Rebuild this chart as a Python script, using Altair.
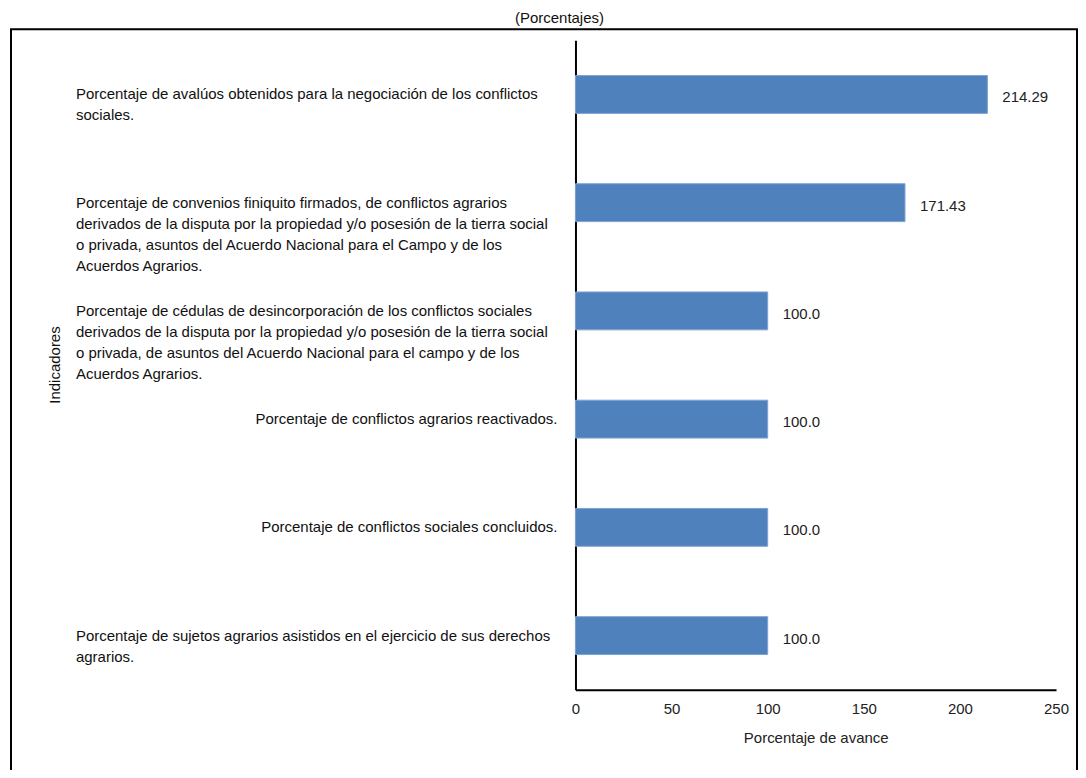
import altair as alt
import pandas as pd

indicadores = [
    ["Porcentaje de avalúos obtenidos para la  negociación de los conflictos",
     "sociales."],
    ["Porcentaje de convenios finiquito firmados, de conflictos agrarios",
     "derivados de la disputa por la propiedad y/o posesión de la tierra social",
     "o privada, asuntos del Acuerdo Nacional para el Campo y de los",
     "Acuerdos Agrarios."],
    ["Porcentaje de cédulas de desincorporación de los conflictos sociales",
     "derivados de la disputa por la propiedad y/o posesión de la tierra social",
     "o privada, de asuntos del Acuerdo Nacional para el campo y de los",
     "Acuerdos Agrarios."],
    ["Porcentaje de conflictos agrarios reactivados."],
    ["Porcentaje de conflictos sociales concluidos."],
    ["Porcentaje de sujetos agrarios asistidos en el ejercicio de sus derechos",
     "agrarios."],
]
avance = [214.29, 171.43, 100.0, 100.0, 100.0, 100.0]
etiquetas = ["214.29", "171.43", "100.0", "100.0", "100.0", "100.0"]
x_ticks = [0, 50, 100, 150, 200, 250]
titulo = "(Porcentajes)"
titulo_x = "Porcentaje de avance"
titulo_y = "Indicadores"

FONT = "Liberation Sans, Arial, sans-serif"
BAR = "#4F81BD"

df = pd.DataFrame({
    "key": [" ".join(l) for l in indicadores],
    "lines": indicadores,
    "multi": [len(l) > 1 for l in indicadores],
    "avance": avance,
    "etiqueta": etiquetas,
})
order = df["key"].tolist()

W, H = 481, 650

y_enc = alt.Y("key:N", sort=order,
              scale=alt.Scale(domain=order, paddingInner=0.65, paddingOuter=0.325),
              axis=alt.Axis(labels=False, ticks=False, title=None, grid=False,
                            domainColor="black", domainWidth=2))
x_enc = alt.X("avance:Q", scale=alt.Scale(domain=[0, 250], nice=False),
              axis=alt.Axis(values=x_ticks, title=titulo_x, grid=False, ticks=False,
                            domainColor="black", domainWidth=2, labelFlush=False,
                            labelFontSize=15, labelFont=FONT, labelColor="#222",
                            labelPadding=12, titleFont=FONT, titleFontSize=15,
                            titleFontWeight="normal", titleColor="#222",
                            titlePadding=14))

base = alt.Chart(df)

bars = base.mark_bar(color=BAR, stroke="#7fa3d3", strokeWidth=1).encode(x=x_enc, y=y_enc)

vals = base.mark_text(align="left", baseline="middle", dx=15, dy=3, font=FONT,
                      fontSize=15, color="#222").encode(
    x="avance:Q", y=alt.Y("key:N", sort=order), text="etiqueta:N")

lab_multi = base.transform_filter("datum.multi").mark_text(
    align="left", baseline="middle", font=FONT, fontSize=15, lineHeight=21,
    color="#111").encode(x=alt.value(-500), y=alt.Y("key:N", sort=order), text="lines:N")

lab_single = base.transform_filter("!datum.multi").mark_text(
    align="right", baseline="middle", font=FONT, fontSize=15, lineHeight=21,
    color="#111").encode(x=alt.value(-18), y=alt.Y("key:N", sort=order), text="lines:N")

one = pd.DataFrame({"t": [titulo], "ty": [titulo_y]})

title_mark = alt.Chart(one).mark_text(
    align="center", baseline="alphabetic", font=FONT, fontSize=15, color="#111"
).encode(x=alt.value(-16), y=alt.value(-17), text="t:N")

ytitle = alt.Chart(one).mark_text(
    align="center", baseline="middle", angle=270, font=FONT, fontSize=15, color="#111"
).encode(x=alt.value(-521), y=alt.value(325), text="ty:N")

border = alt.Chart(one).mark_rect(fill="transparent", stroke="black", strokeWidth=2).encode(
    x=alt.value(-565), x2=alt.value(502), y=alt.value(-11), y2=alt.value(780))

chart = alt.layer(border, bars, vals, lab_multi, lab_single, title_mark, ytitle).properties(
    width=W, height=H,
    padding={"left": 568, "top": 32, "right": 22, "bottom": 80},
    autosize=alt.AutoSizeParams(type="none"),
).configure(background="white", view=alt.ViewConfig(stroke="transparent", strokeWidth=0))

chart.save("out.html", embed_options={"renderer": "svg", "actions": False})
